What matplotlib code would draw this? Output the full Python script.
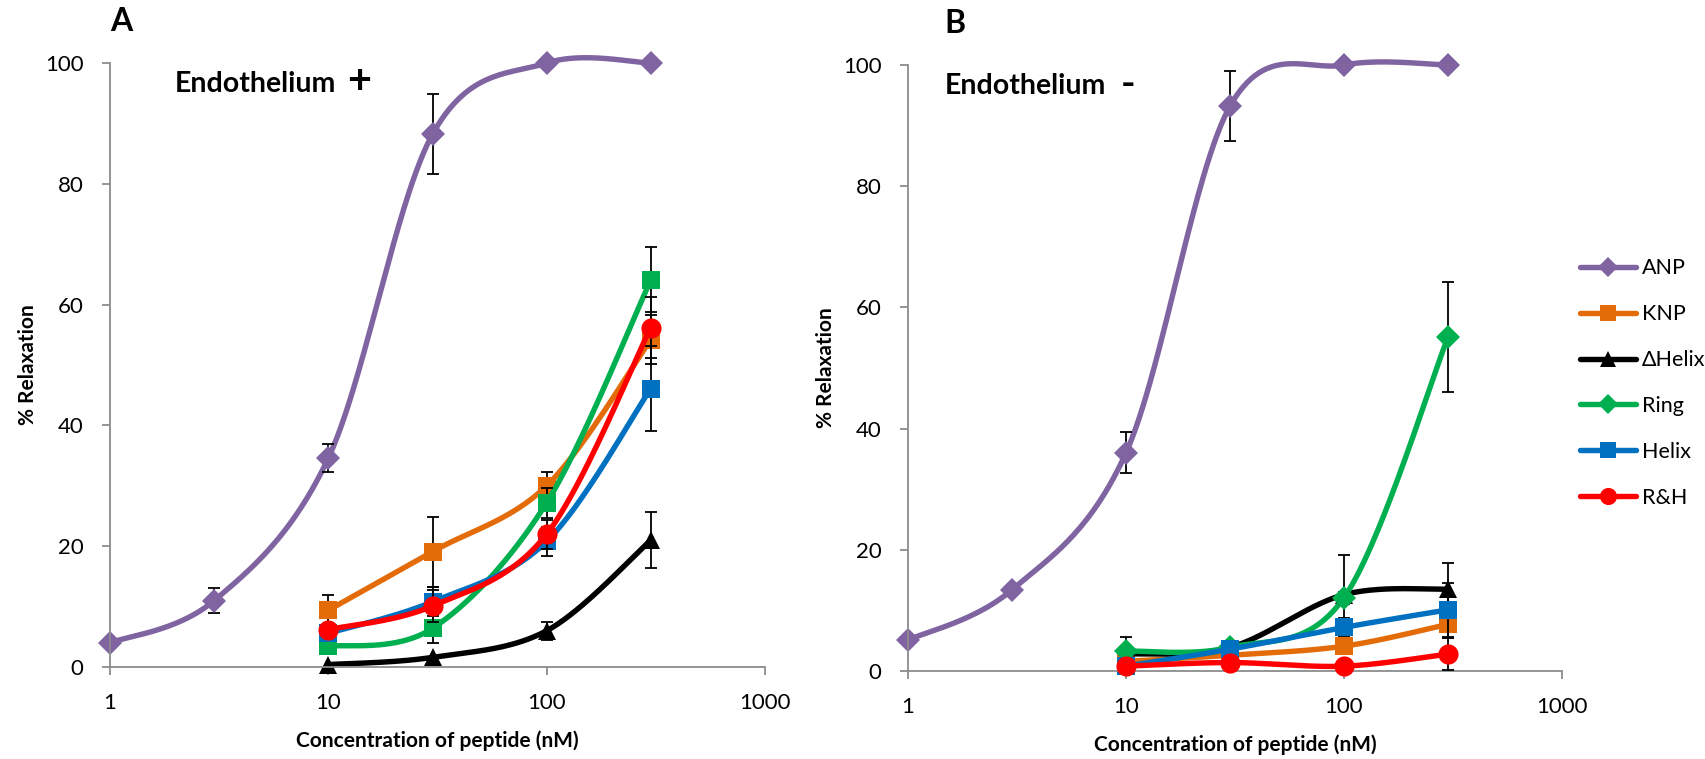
import numpy as np
import matplotlib
matplotlib.use("Agg")
import matplotlib.pyplot as plt
from matplotlib.lines import Line2D

plt.rcParams['font.family'] = ['Lato', 'DejaVu Sans']

# concentrations (nM)
conc_anp = [1, 3, 10, 30, 100, 300]
conc = [10, 30, 100, 300]

series_names = ['ANP', 'KNP', '\u0394Helix', 'Ring', 'Helix', 'R&H']
series_colors = ['#8064A2', '#E36C09', '#000000', '#00B050', '#0070C0', '#FF0000']

# panel A : endothelium intact
anp_a = [4.0, 11.0, 34.6, 88.2, 100.0, 100.0]
anp_a_err = [0, 2.1, 2.3, 6.6, 0, 0]
knp_a = [9.4, 19.1, 30.0, 54.2]
knp_a_err = [2.6, 5.8, 2.3, 4.0]
dhelix_a = [0.4, 1.6, 6.0, 21.0]
dhelix_a_err = [0, 0, 1.5, 4.6]
ring_a = [3.4, 6.4, 27.2, 64.1]
ring_a_err = [0.6, 2.5, 2.5, 5.4]
helix_a = [5.6, 10.8, 20.8, 46.1]
helix_a_err = [0.8, 2.4, 2.4, 7.0]
rh_a = [6.2, 10.1, 22.0, 56.2]
rh_a_err = [0.7, 2.6, 2.4, 5.0]

# panel B : endothelium removed
anp_b = [5.1, 13.4, 36.0, 93.2, 100.0, 100.0]
anp_b_err = [0, 0.6, 3.4, 5.8, 0, 0]
knp_b = [1.6, 2.6, 4.1, 7.7]
knp_b_err = [0.5, 0.8, 1.0, 2.3]
dhelix_b = [2.8, 3.9, 12.6, 13.5]
dhelix_b_err = [2.8, 1.0, 6.5, 4.3]
ring_b = [3.3, 3.9, 12.1, 55.1]
ring_b_err = [0.5, 1.0, 1.0, 9.1]
helix_b = [0.8, 3.6, 7.2, 10.1]
helix_b_err = [0.5, 1.0, 1.5, 4.5]
rh_b = [0.8, 1.4, 0.8, 2.8]
rh_b_err = [0.3, 0.5, 0.5, 2.7]

markers_a = ['D', 's', '^', 's', 's', 'o']
markers_b = ['D', 's', '^', 'D', 's', 'o']
marker_sizes = {'D': 12.5, 's': 13.5, '^': 13.5, 'o': 14.5}


def smooth_curve(x, y, n=60):
    # bezier smoothing through the points, control points at 1/6 of the neighbour chord
    pts = np.column_stack([np.log10(x), np.asarray(y, dtype=float)])
    m = len(pts)
    out = []
    t = np.linspace(0, 1, n)[:, None]
    for i in range(m - 1):
        p0 = pts[i - 1] if i > 0 else pts[i]
        p1 = pts[i]
        p2 = pts[i + 1]
        p3 = pts[i + 2] if i + 2 < m else pts[i + 1]
        c1 = p1 + (p2 - p0) / 6
        c2 = p2 - (p3 - p1) / 6
        seg = ((1 - t) ** 3) * p1 + 3 * ((1 - t) ** 2) * t * c1 + 3 * (1 - t) * t ** 2 * c2 + t ** 3 * p2
        out.append(seg if i == 0 else seg[1:])
    out = np.vstack(out)
    return 10 ** out[:, 0], out[:, 1]


def draw_panel(ax, data, markers, title_x, sign, sign_x, sign_size, letter, letter_x):
    for i, (x, y, err) in enumerate(data):
        color = series_colors[i]
        z = 2 + i * 0.1
        sx, sy = smooth_curve(x, y)
        ax.plot(sx, sy, color=color, lw=3.9, solid_capstyle='round', zorder=z, clip_on=False)
        keep = [k for k in range(len(err)) if err[k] > 0]
        if keep:
            ax.errorbar([x[k] for k in keep], [y[k] for k in keep], yerr=[err[k] for k in keep],
                        fmt='none', ecolor='black', elinewidth=1.3, capsize=4.5, capthick=1.3,
                        zorder=z + 0.03, clip_on=False)
        mk = markers[i]
        ax.plot(x, y, linestyle='none', marker=mk, markersize=marker_sizes[mk],
                color=color, markeredgewidth=0, zorder=z + 0.06, clip_on=False)

    ax.set_xscale('log')
    ax.set_xlim(1, 1000)
    ax.set_ylim(0, 100)
    ax.set_yticks([0, 20, 40, 60, 80, 100])
    ax.set_xticks([1, 10, 100, 1000])
    ax.set_xticklabels(['1', '10', '100', '1000'])
    ax.xaxis.set_minor_locator(matplotlib.ticker.NullLocator())
    for side in ['top', 'right']:
        ax.spines[side].set_visible(False)
    for side in ['left', 'bottom']:
        ax.spines[side].set_color('#8c8c8c')
        ax.spines[side].set_linewidth(1.3)
    ax.tick_params(axis='both', which='major', color='#8c8c8c', width=1.3, length=6,
                   labelsize=16, pad=13)
    ax.set_xlabel('Concentration of peptide (nM)', fontsize=15, fontweight='bold')
    ax.xaxis.set_label_coords(0.5, -0.122)
    ax.xaxis.label.set_va('center')
    ax.set_ylabel('% Relaxation', fontsize=15, fontweight='bold')
    ax.yaxis.set_label_coords(-0.125, 0.5)
    ax.yaxis.label.set_va('center')
    ax.text(title_x, 0.966, 'Endothelium', transform=ax.transAxes, fontsize=20.5,
            fontweight='bold', va='center', ha='left')
    ax.text(sign_x, 0.968, sign, transform=ax.transAxes, fontsize=sign_size,
            fontweight='bold', va='center', ha='center')
    ax.text(letter_x, 1.068, letter, transform=ax.transAxes, fontsize=23,
            fontweight='bold', va='center', ha='left')


fig = plt.figure(figsize=(17.06, 7.59), dpi=100)
ax_a = fig.add_axes([0.0645, 0.1212, 0.3839, 0.7958])
ax_b = fig.add_axes([0.5322, 0.1159, 0.3834, 0.7985])

data_a = [(conc_anp, anp_a, anp_a_err), (conc, knp_a, knp_a_err), (conc, dhelix_a, dhelix_a_err),
          (conc, ring_a, ring_a_err), (conc, helix_a, helix_a_err), (conc, rh_a, rh_a_err)]
data_b = [(conc_anp, anp_b, anp_b_err), (conc, knp_b, knp_b_err), (conc, dhelix_b, dhelix_b_err),
          (conc, ring_b, ring_b_err), (conc, helix_b, helix_b_err), (conc, rh_b, rh_b_err)]

draw_panel(ax_a, data_a, markers_a, 0.099, '+', 0.38, 30, 'A', 0.0)
draw_panel(ax_b, data_b, markers_b, 0.056, '-', 0.337, 28, 'B', 0.055)

handles = [Line2D([0], [0], color=c, lw=3.9, marker=m, markersize=marker_sizes[m] * 0.85,
                  markeredgewidth=0, solid_capstyle='round')
           for c, m in zip(series_colors, markers_b)]
fig.legend(handles, series_names, loc='upper left', bbox_to_anchor=(0.915, 0.685),
           frameon=False, fontsize=15.5, handlelength=2.6, handletextpad=0.25,
           labelspacing=1.2)

fig.savefig('out.png', dpi=100)
